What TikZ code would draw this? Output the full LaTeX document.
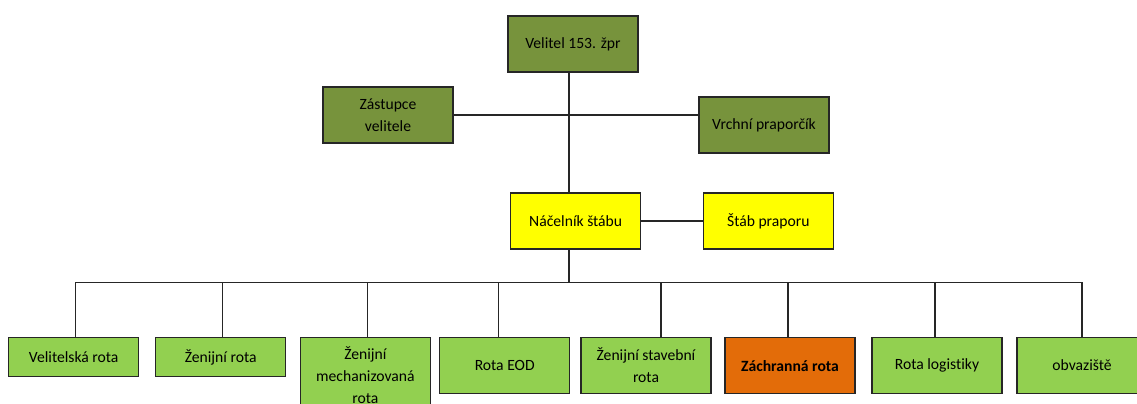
\documentclass[tikz,border=0pt]{standalone}
\usepackage{fontspec}
\setmainfont{Carlito}[Ligatures=NoCommon]
\definecolor{chiefgreen}{HTML}{77933C}
\definecolor{staffyellow}{HTML}{FFFF00}
\definecolor{unitgreen}{HTML}{92D050}
\definecolor{rescueorange}{HTML}{E36C09}
\definecolor{edgegray}{HTML}{262626}

\tikzstyle{unit} = [rectangle, minimum width=2.6cm, minimum height=1.12cm, inner sep=1pt, text centered, align=center, draw=edgegray, line width=0.7pt, font=\fontsize{8.9}{12.5}\selectfont]
\tikzstyle{company} = [unit, anchor=north, fill=unitgreen]
\tikzstyle{link} = [draw=edgegray, line width=0.7pt]

\begin{document}
\begin{tikzpicture}[x=0.02cm, y=-0.02cm]
    \useasboundingbox (0,0) rectangle (1137,404);
    \clip (0,0) rectangle (1137,404);
	\node (Velitel) at (573,44) [unit, fill=chiefgreen] {Velitel 153. žpr};
	\node (Zastupce) at (388,115) [unit, fill=chiefgreen] {Zástupce\\velitele};
	\node (Vrchni) at (764,125) [unit, fill=chiefgreen] {Vrchní praporčík};
	\node (Nacelnik) at (575.7,221) [unit, fill=staffyellow] {Náčelník štábu};
	\node (Stab) at (768.3,221) [unit, fill=staffyellow] {Štáb praporu};
	\coordinate (trunk) at (569,282.7);
	% companies
	\node (Velitelska) at (73.7,337) [company, minimum height=0.78cm] {Velitelská rota};
	\node (Zenijni) at (220.7,337) [company, minimum height=0.78cm] {Ženijní rota};
	\node (Mech) at (365.4,337) [company, minimum height=1.52cm] {Ženijní\\mechanizovaná\\rota};
	\node (EOD) at (504.7,337) [company] {Rota EOD};
	\node (Stavebni) at (646,337) [company] {Ženijní stavební\\rota};
	\node (Zachranna) at (790,337) [company, fill=rescueorange, font=\fontsize{8.9}{12.5}\selectfont\bfseries] {Záchranná rota};
	\node (Logistika) at (937,337) [company] {Rota logistiky};
	\node (Obvaziste) at (1082,337) [company] {obvaziště};
	\draw [link] (Velitel.south -| trunk) -- (Nacelnik.north -| trunk);
	\draw [link] (Zastupce.east) -- (Zastupce.east -| Vrchni.west);
	\draw [link] (Nacelnik) -- (Stab);
	\draw [link] (Nacelnik.south -| trunk) -- (trunk);
	\foreach \n/\d in {Velitelska/2, Zenijni/2, Mech/2, EOD/-6, Stavebni/15, Zachranna/-2, Logistika/-2, Obvaziste/0}
	    \draw [link] ([xshift=\d*0.02cm]\n.north) |- (trunk);
\end{tikzpicture}
\end{document}
